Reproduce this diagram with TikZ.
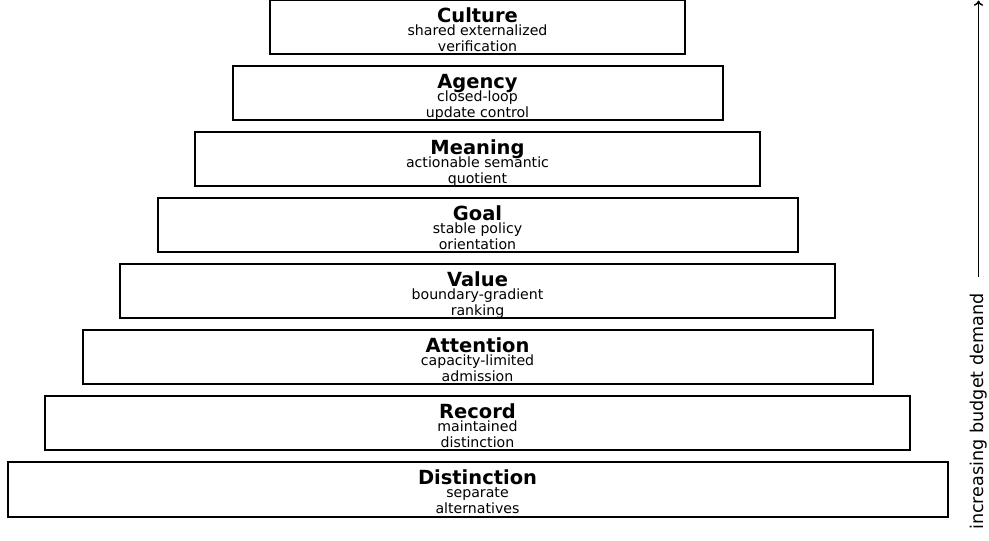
\documentclass[tikz,border=0pt]{standalone}
\usepackage{fontspec}
\setmainfont{DejaVu Sans}
\usetikzlibrary{positioning}
\usetikzlibrary{arrows.meta}
\tikzstyle{layer}=[draw, line width=1.5pt, inner sep=0pt, outer sep=0pt, minimum height=40.5pt]
\tikzstyle{title}=[font=\fontsize{14.6}{17}\selectfont\bfseries, inner sep=0pt, anchor=base]
\tikzstyle{gloss}=[font=\fontsize{10.6}{12}\selectfont, align=center, inner sep=0pt, anchor=base]

\begin{document}
\begin{tikzpicture}[x=0.75pt, y=-0.75pt]
  \useasboundingbox (0,0) rectangle (989,541);
  % the stack, widest at the bottom
  \node[layer, minimum width=705pt] (distinction) at (477.5,489.5) {};
  \node[layer, minimum width=648.75pt, above=9pt of distinction] (record) {};
  \node[layer, minimum width=592.5pt, above=9pt of record] (attention) {};
  \node[layer, minimum width=536.25pt, above=9pt of attention] (value) {};
  \node[layer, minimum width=480pt, above=9pt of value] (goal) {};
  \node[layer, minimum width=423.75pt, above=9pt of goal] (meaning) {};
  \node[layer, minimum width=367.5pt, above=9pt of meaning] (agency) {};
  \node[layer, minimum width=311.25pt, above=9pt of agency] (culture) {};

  % base of the gloss is its last line
  \node[title] (distinction-t) at ([yshift=4.1pt]distinction.center) {Distinction};
  \node[gloss] (distinction-g) at ([yshift=-18.2pt]distinction.center) {separate\\alternatives};
  \node[title] (record-t) at ([yshift=4.1pt]record.center) {Record};
  \node[gloss] (record-g) at ([yshift=-18.2pt]record.center) {maintained\\distinction};
  \node[title] (attention-t) at ([yshift=4.1pt]attention.center) {Attention};
  \node[gloss] (attention-g) at ([yshift=-18.2pt]attention.center) {capacity-limited\\admission};
  \node[title] (value-t) at ([yshift=4.1pt]value.center) {Value};
  \node[gloss] (value-g) at ([yshift=-18.2pt]value.center) {boundary-gradient\\ranking};
  \node[title] (goal-t) at ([yshift=4.1pt]goal.center) {Goal};
  \node[gloss] (goal-g) at ([yshift=-18.2pt]goal.center) {stable policy\\orientation};
  \node[title] (meaning-t) at ([yshift=4.1pt]meaning.center) {Meaning};
  \node[gloss] (meaning-g) at ([yshift=-18.2pt]meaning.center) {actionable semantic\\quotient};
  \node[title] (agency-t) at ([yshift=4.1pt]agency.center) {Agency};
  \node[gloss] (agency-g) at ([yshift=-18.2pt]agency.center) {closed-loop\\update control};
  \node[title] (culture-t) at ([yshift=4.1pt]culture.center) {Culture};
  \node[gloss] (culture-g) at ([yshift=-18.2pt]culture.center) {shared externalized\\verification};

  % demand axis
  \node[font=\fontsize{13.2}{15}\selectfont, rotate=90, anchor=west, inner sep=0pt]
    (demand) at (978.5,530) {increasing budget demand};
  \coordinate (top) at (978.5,0.5);
  \draw[line width=1.1pt, -{To[length=4pt, width=7pt]}, shorten <=12pt] (demand.east) -- (top);
\end{tikzpicture}
\end{document}
